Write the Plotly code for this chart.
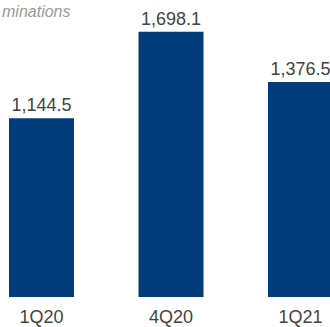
import plotly.graph_objects as go

categories = ["1Q20", "4Q20", "1Q21"]
values = [1144.5, 1698.1, 1376.5]
value_labels = ["1,144.5", "1,698.1", "1,376.5"]
subtitle = "minations"

fig = go.Figure(
    go.Bar(
        x=categories,
        y=values,
        text=value_labels,
        textposition="outside",
        textfont=dict(family="Liberation Sans, Arial, sans-serif", size=18, color="#444444"),
        marker=dict(color="#023d7b", line=dict(width=0)),
        width=0.502,
        cliponaxis=False,
        hoverinfo="skip",
    )
)

fig.update_layout(
    width=330,
    height=327,
    margin=dict(l=0, r=0, t=0, b=30, autoexpand=False),
    paper_bgcolor="white",
    plot_bgcolor="white",
    showlegend=False,
    xaxis=dict(
        type="category",
        range=[-0.3205, 2.2278],
        autorange=False,
        automargin=False,
        showgrid=False,
        zeroline=False,
        showline=False,
        ticks="",
        ticklabelstandoff=7,
        tickfont=dict(family="Liberation Sans, Arial, sans-serif", size=18, color="#444444"),
    ),
    yaxis=dict(
        range=[0, 1901],
        autorange=False,
        automargin=False,
        visible=False,
        showgrid=False,
        zeroline=False,
    ),
    annotations=[
        dict(
            text="<i>" + subtitle + "</i>",
            xref="paper",
            yref="paper",
            x=0,
            y=1,
            xanchor="left",
            yanchor="top",
            yshift=-1,
            showarrow=False,
            font=dict(family="Liberation Sans, Arial, sans-serif", size=16, color="#9a9a9a"),
        )
    ],
)

fig.write_html(
    "out.html",
    config={"displayModeBar": False},
    post_script="document.body.style.margin='0';document.body.style.overflow='hidden';",
)
